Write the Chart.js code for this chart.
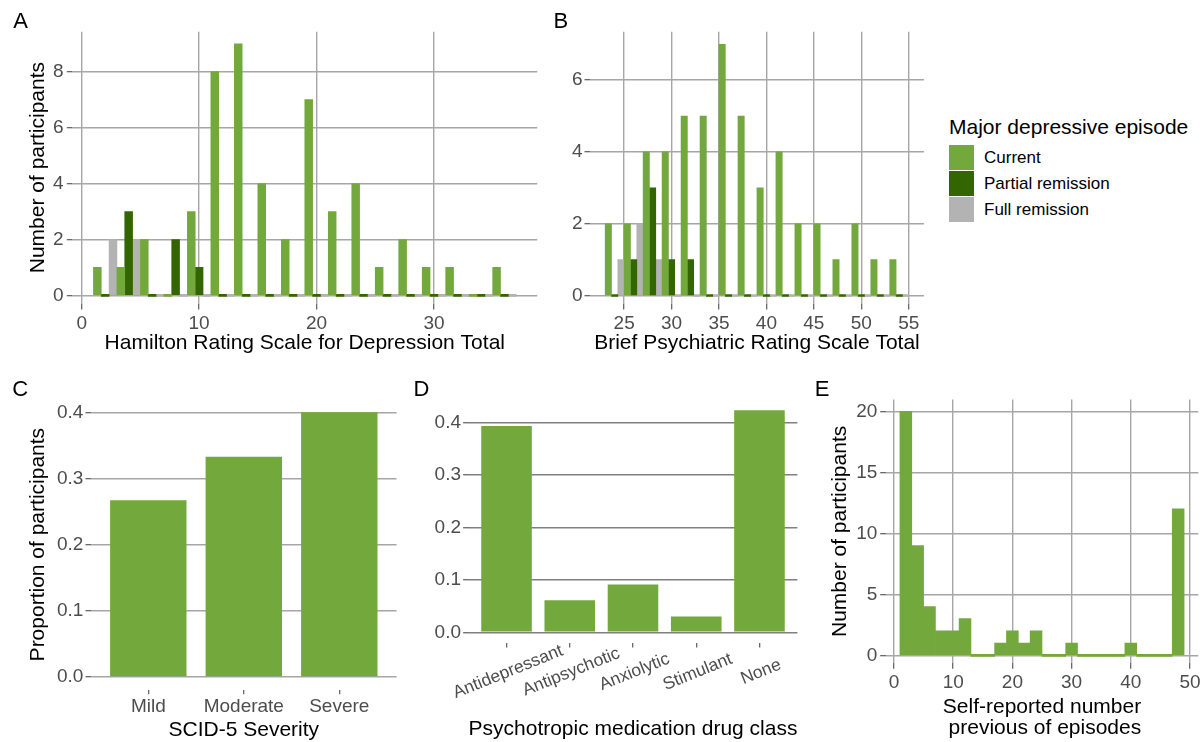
<!DOCTYPE html>
<html>
<head>
<meta charset="utf-8">
<title>Participant characteristics</title>
<script src="https://cdn.jsdelivr.net/npm/chart.js@4.4.1/dist/chart.umd.min.js"></script>
<style>
  body { margin: 0; background: #fff; font-family: 'Liberation Sans', Arial, sans-serif; }
  #fig { position: relative; width: 1203px; height: 742px; overflow: hidden; background: #fff; }
  #fig canvas { position: absolute; }
  .tag { position: absolute; font-size: 22px; line-height: 22px; color: #000; }
  .legend-title { position: absolute; left: 949px; top: 115.5px; font-size: 21px; line-height: 21px; color: #000; white-space: nowrap; }
  .legend-row { position: absolute; left: 949px; height: 25px; display: flex; align-items: center; white-space: nowrap; }
  .legend-row span.key { display: inline-block; width: 25px; height: 25px; }
  .legend-row span.txt { margin-left: 10px; font-size: 17px; color: #000; }
</style>
</head>
<body>
<div id="fig">
  <canvas id="chartA" width="555" height="370" style="left:0px;top:0px"></canvas>
  <canvas id="chartB" width="390" height="370" style="left:555px;top:0px"></canvas>
  <canvas id="chartC" width="400" height="372" style="left:0px;top:370px"></canvas>
  <canvas id="chartD" width="410" height="372" style="left:400px;top:370px"></canvas>
  <canvas id="chartE" width="400" height="372" style="left:810px;top:370px"></canvas>

  <!-- panel letters -->
  <div class="tag" style="left:13.3px;top:9.7px">A</div>
  <div class="tag" style="left:553.5px;top:9.7px">B</div>
  <div class="tag" style="left:12.2px;top:378.1px">C</div>
  <div class="tag" style="left:413.5px;top:378.1px">D</div>
  <div class="tag" style="left:814.8px;top:378.1px">E</div>

  <!-- shared legend for A and B -->
  <div id="legend"></div>
</div>

<script>
// ---------- data ----------
// A: Hamilton totals, histogram with bins of width 2 (bin centres)
var hamBins    = [2, 4, 6, 8, 10, 12, 14, 16, 18, 20, 22, 24, 26, 28, 30, 32, 34, 36];
var hamCurrent = [1, 1, 2, 0, 3, 8, 9, 4, 2, 7, 3, 4, 1, 2, 1, 1, 0, 1];
var hamPartial = [0, 3, 0, 2, 1, 0, 0, 0, 0, 0, 0, 0, 0, 0, 0, 0, 0, 0];
var hamFull    = [2, 2, 0, 0, 0, 0, 0, 0, 0, 0, 0, 0, 0, 0, 0, 0, 0, 0];
var hamTicks   = [0, 10, 20, 30];
var countTicksA = [0, 2, 4, 6, 8];

// B: BPRS totals
var bprsBins    = [24, 26, 28, 30, 32, 34, 36, 38, 40, 42, 44, 46, 48, 50, 52, 54];
var bprsCurrent = [2, 2, 4, 4, 5, 5, 7, 5, 3, 4, 2, 2, 1, 2, 1, 1];
var bprsPartial = [0, 1, 3, 1, 1, 0, 0, 0, 0, 0, 0, 0, 0, 0, 0, 0];
var bprsFull    = [1, 2, 1, 0, 0, 0, 0, 0, 0, 0, 0, 0, 0, 0, 0, 0];
var bprsTicks   = [25, 30, 35, 40, 45, 50, 55];
var countTicksB = [0, 2, 4, 6];

// C: SCID-5 severity
var severityCats = ['Mild', 'Moderate', 'Severe'];
var severityProp = [0.267, 0.333, 0.400];

// D: medication class
var drugCats = ['Antidepressant', 'Antipsychotic', 'Anxiolytic', 'Stimulant', 'None'];
var drugProp = [0.394, 0.061, 0.091, 0.030, 0.424];
var propTicks = [0, 0.1, 0.2, 0.3, 0.4];

// E: previous episodes, bins of width 2
var episodeBins   = [2, 4, 6, 8, 10, 12, 14, 16, 18, 20, 22, 24, 26, 28, 30, 32, 34, 36, 38, 40, 42, 44, 46, 48];
var episodeCounts = [20, 9, 4, 2, 2, 3, 0, 0, 1, 2, 1, 2, 0, 0, 1, 0, 0, 0, 0, 1, 0, 0, 0, 12];
var episodeTicks  = [0, 10, 20, 30, 40, 50];
var countTicksE   = [0, 5, 10, 15, 20];

var groupNames = ['Current', 'Partial remission', 'Full remission'];

// ---------- styles ----------
var green = '#73a83c', darkGreen = '#336600', grey = '#b3b3b3';
var gridGrey = '#a6a6a6', tickGrey = '#5a5a5a', labelGrey = '#4d4d4d';
var tickFont = { size: 19 };
var titleFont = { size: 21, lineHeight: 1 };

Chart.defaults.font.family = "'Liberation Sans', Arial, Helvetica, sans-serif";

// helpers
function pairs(xs, ys) {
	return ys.map(function (v, i) { return { x: xs[i], y: v }; });
}
function fixedTicks(values) {
	return function (axis) { axis.ticks = values.map(function (v) { return { value: v }; }); };
}
function baseOptions(padding) {
	return {
		responsive: false,
		animation: false,
		events: [],
		layout: { padding: padding },
		plugins: { legend: { display: false }, tooltip: { enabled: false } }
	};
}
function histDatasets(bins, cur, part, full) {
	return [
		{ label: groupNames[0], data: pairs(bins, cur), backgroundColor: green },
		{ label: groupNames[1], data: pairs(bins, part), backgroundColor: darkGreen },
		{ label: groupNames[2], data: pairs(bins, full), backgroundColor: grey }
	];
}
function gridOpts(extra) {
	return Object.assign({ offset: false, color: gridGrey, lineWidth: 1.4, tickLength: 5.5, tickColor: tickGrey, tickWidth: 1.2 }, extra || {});
}

// ---------- A ----------
var optA = baseOptions({ left: 0, top: 31.7, right: 17.7, bottom: 0 });
optA.datasets = { bar: { categoryPercentage: 1, barPercentage: 1, minBarLength: 2 } };
optA.scales = {
	x: {
		type: 'linear', offset: false, min: -0.8, max: 38.8,
		afterBuildTicks: fixedTicks(hamTicks),
		afterFit: function (a) { a.height = 66.5; },
		border: { display: false },
		grid: gridOpts({ tickLength: 6 }),
		ticks: { padding: 2.7, color: labelGrey, font: tickFont, maxRotation: 0, autoSkip: false },
		title: { display: true, text: 'Hamilton Rating Scale for Depression Total', color: '#000', font: titleFont, padding: { top: 0, bottom: 16.5 } }
	},
	y: {
		type: 'linear', min: -0.29, max: 9.43,
		afterBuildTicks: fixedTicks(countTicksA),
		afterFit: function (a) { a.width = 72.3; },
		border: { display: false },
		grid: gridOpts(),
		ticks: { padding: 3.3, color: labelGrey, font: tickFont },
		title: { display: true, text: 'Number of participants', color: '#000', font: titleFont, padding: { top: 27.5, bottom: 0 } }
	}
};
new Chart(document.getElementById('chartA'), {
	type: 'bar',
	data: { datasets: histDatasets(hamBins, hamCurrent, hamPartial, hamFull) },
	options: optA
});

// ---------- B ----------
var optB = baseOptions({ left: 0, top: 31.7, right: 21.1, bottom: 0 });
optB.datasets = { bar: { categoryPercentage: 1, barPercentage: 1, minBarLength: 2 } };
optB.scales = {
	x: {
		type: 'linear', offset: false, min: 21.4, max: 56.6,
		afterBuildTicks: fixedTicks(bprsTicks),
		afterFit: function (a) { a.height = 66.5; },
		border: { display: false },
		grid: gridOpts({ tickLength: 6 }),
		ticks: { padding: 2.7, color: labelGrey, font: tickFont, maxRotation: 0, autoSkip: false },
		title: { display: true, text: 'Brief Psychiatric Rating Scale Total', color: '#000', font: titleFont, padding: { top: 0, bottom: 16.5 } }
	},
	y: {
		type: 'linear', min: -0.223, max: 7.35,
		afterBuildTicks: fixedTicks(countTicksB),
		afterFit: function (a) { a.width = 35; },
		border: { display: false },
		grid: gridOpts(),
		ticks: { padding: 2, color: labelGrey, font: tickFont }
	}
};
new Chart(document.getElementById('chartB'), {
	type: 'bar',
	data: { datasets: histDatasets(bprsBins, bprsCurrent, bprsPartial, bprsFull) },
	options: optB
});

// ---------- C ----------
var optC = baseOptions({ left: 0, top: 29.1, right: 3.4, bottom: 0 });
optC.datasets = { bar: { categoryPercentage: 1, barPercentage: 0.8 } };
optC.scales = {
	x: {
		type: 'linear', offset: false, min: 0.4, max: severityCats.length + 0.6,
		afterBuildTicks: fixedTicks(severityCats.map(function (c, i) { return i + 1; })),
		afterFit: function (a) { a.height = 51.8; },
		border: { display: false },
		grid: gridOpts({ drawOnChartArea: false, tickLength: 4 }),
		ticks: {
			padding: 0.7, color: labelGrey, font: tickFont, maxRotation: 0, autoSkip: false,
			callback: function (v) { return severityCats[v - 1]; }
		},
		title: { display: true, text: 'SCID-5 Severity', color: '#000', font: titleFont, padding: { top: 0, bottom: 1.5 } }
	},
	y: {
		type: 'linear', min: -0.02, max: 0.42,
		afterBuildTicks: fixedTicks(propTicks),
		afterFit: function (a) { a.width = 91; },
		border: { display: false },
		grid: gridOpts(),
		ticks: { padding: 2.2, color: labelGrey, font: tickFont, callback: function (v) { return v.toFixed(1); } },
		title: { display: true, text: 'Proportion of participants', color: '#000', font: titleFont, padding: { top: 27.9, bottom: 0 } }
	}
};
new Chart(document.getElementById('chartC'), {
	type: 'bar',
	data: { datasets: [{ label: 'Proportion', data: pairs(severityCats.map(function (c, i) { return i + 1; }), severityProp), backgroundColor: green }] },
	options: optC
});

// ---------- D ----------
// the class names are drawn turned by 22 degrees and centred on their tick
var slantedLabels = {
	id: 'slantedLabels',
	afterDraw: function (chart) {
		var ctx = chart.ctx, x = chart.scales.x;
		ctx.save();
		ctx.font = "17.5px 'Liberation Sans', Arial, sans-serif";
		ctx.fillStyle = labelGrey;
		ctx.textAlign = 'center';
		ctx.textBaseline = 'middle';
		drugCats.forEach(function (name, i) {
			var px = x.getPixelForValue(i + 1);
			ctx.save();
			ctx.translate(px + 1.5, x.top + 28.6);
			ctx.rotate(-22 * Math.PI / 180);
			ctx.fillText(name, 0, 0);
			ctx.restore();
		});
		ctx.restore();
	}
};
var optD = baseOptions({ left: 0, top: 28.9, right: 12.6, bottom: 0 });
optD.datasets = { bar: { categoryPercentage: 1, barPercentage: 0.8 } };
optD.scales = {
	x: {
		type: 'linear', offset: false, min: 0.4, max: drugCats.length + 0.6,
		afterBuildTicks: fixedTicks(drugCats.map(function (c, i) { return i + 1; })),
		afterFit: function (a) { a.height = 98.6; },
		border: { display: false },
		grid: gridOpts({ drawOnChartArea: false, tickLength: 4 }),
		ticks: { display: false },
		title: { display: true, text: 'Psychotropic medication drug class', color: '#000', font: titleFont, padding: { top: 0, bottom: 2.2 } }
	},
	y: {
		type: 'linear', min: -0.0212, max: 0.4455,
		afterBuildTicks: fixedTicks(propTicks),
		afterFit: function (a) { a.width = 68.6; },
		border: { display: false },
		grid: gridOpts({ color: '#808080', lineWidth: 1.5 }),
		ticks: { padding: 2.1, color: labelGrey, font: tickFont, callback: function (v) { return v.toFixed(1); } }
	}
};
new Chart(document.getElementById('chartD'), {
	type: 'bar',
	data: { datasets: [{ label: 'Proportion', data: pairs(drugCats.map(function (c, i) { return i + 1; }), drugProp), backgroundColor: green }] },
	options: optD,
	plugins: [slantedLabels]
});

// ---------- E ----------
var optE = baseOptions({ left: 0, top: 29.5, right: 11.7, bottom: 0 });
optE.datasets = { bar: { categoryPercentage: 1, barPercentage: 1, minBarLength: 2 } };
optE.scales = {
	x: {
		type: 'linear', offset: false, min: -1.4, max: 51.4,
		afterBuildTicks: fixedTicks(episodeTicks),
		afterFit: function (a) { a.height = 78.7; },
		border: { display: false },
		grid: gridOpts(),
		ticks: { padding: 2.7, color: labelGrey, font: tickFont, maxRotation: 0, autoSkip: false },
		title: { display: true, text: ['Self-reported number', ' previous of episodes'], color: '#000', font: titleFont, padding: { top: 0, bottom: 2.8 } }
	},
	y: {
		type: 'linear', min: -0.656, max: 20.97,
		afterBuildTicks: fixedTicks(countTicksE),
		afterFit: function (a) { a.width = 75.7; },
		border: { display: false },
		grid: gridOpts(),
		ticks: { padding: 2.9, color: labelGrey, font: tickFont },
		title: { display: true, text: 'Number of participants', color: '#000', font: titleFont, padding: { top: 19.5, bottom: 0 } }
	}
};
new Chart(document.getElementById('chartE'), {
	type: 'bar',
	data: { datasets: [{ label: 'Previous episodes', data: pairs(episodeBins, episodeCounts), backgroundColor: green }] },
	options: optE
});

// ---------- legend ----------
var legend = document.getElementById('legend');
var html = '<div class="legend-title">Major depressive episode</div>';
var keyColours = [green, darkGreen, grey];
for (var i = 0; i < groupNames.length; i++) {
	html += '<div class="legend-row" style="top:' + (145 + i * 26) + 'px"><span class="key" style="background:' + keyColours[i] + '"></span><span class="txt">' + groupNames[i] + '</span></div>';
}
legend.innerHTML = html;
</script>
</body>
</html>
